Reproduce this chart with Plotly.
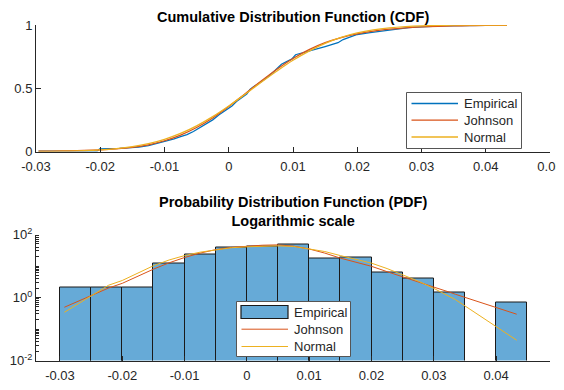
import plotly.graph_objects as go

# ---------------- data ----------------
# Top: CDF curves
cdf_x = [-0.0296, -0.0275, -0.025, -0.0225, -0.02, -0.0175, -0.015, -0.0125, -0.01, -0.0075,
         -0.005, -0.0025, 0.0, 0.0025, 0.005, 0.0075, 0.01, 0.0125, 0.015, 0.0175,
         0.02, 0.0225, 0.025, 0.0275, 0.03, 0.0325, 0.035, 0.0375, 0.04, 0.0433]
cdf_normal = [0.0008, 0.0016, 0.0033, 0.0066, 0.0124, 0.0222, 0.038, 0.062, 0.0965, 0.143,
              0.203, 0.276, 0.36, 0.451, 0.545, 0.636, 0.721, 0.794, 0.855, 0.902,
              0.937, 0.961, 0.977, 0.987, 0.9933, 0.9966, 0.9984, 0.9993, 0.9997, 0.9999]
cdf_johnson = [0.002, 0.003, 0.005, 0.008, 0.013, 0.021, 0.033, 0.053, 0.085, 0.13,
               0.19, 0.265, 0.355, 0.455, 0.555, 0.65, 0.735, 0.805, 0.86, 0.9,
               0.93, 0.952, 0.967, 0.978, 0.985, 0.99, 0.993, 0.995, 0.997, 0.998]
emp_x = [-0.0296, -0.0205, -0.0203, -0.0201, -0.017, -0.0155, -0.014, -0.0125, -0.011, -0.0095,
         -0.0085, -0.0075, -0.0065, -0.0055, -0.0045, -0.0035, -0.0025, -0.0015, -0.0005, 0.0005,
         0.0012, 0.002, 0.0028, 0.0033, 0.0038, 0.005, 0.0062, 0.0072, 0.0082, 0.009,
         0.0098, 0.0104, 0.0112, 0.012, 0.013, 0.014, 0.015, 0.016, 0.017, 0.0178,
         0.019, 0.02, 0.022, 0.024, 0.026, 0.028, 0.03, 0.0335, 0.0433]
emp_y = [0.0035, 0.0035, 0.0105, 0.021, 0.024, 0.028, 0.035, 0.046, 0.065, 0.087,
         0.1, 0.117, 0.133, 0.158, 0.19, 0.215, 0.25, 0.29, 0.322, 0.36,
         0.395, 0.425, 0.455, 0.49, 0.51, 0.55, 0.595, 0.64, 0.69, 0.71,
         0.73, 0.765, 0.775, 0.785, 0.8, 0.815, 0.83, 0.845, 0.86, 0.885,
         0.905, 0.925, 0.94, 0.955, 0.97, 0.98, 0.985, 0.993, 1.0]

# Bottom: histogram (pdf normalisation) and fitted pdfs
bin_edges = [-0.03, -0.025, -0.02, -0.015, -0.01, -0.005, 0.0, 0.005, 0.01, 0.015,
             0.02, 0.025, 0.03, 0.035, 0.04, 0.045]
bin_pdf = [2.12, 2.12, 2.12, 11.8, 22.9, 38.4, 42.2, 46.8, 16.7, 19.3,
           6.4, 4.1, 1.43, None, 0.70]
pdf_x = [-0.0293, -0.0222, -0.02, -0.0175, -0.015, -0.0125, -0.01, -0.0075, -0.005, -0.0025,
         0.0, 0.0025, 0.005, 0.0075, 0.01, 0.0125, 0.015, 0.0175, 0.02, 0.0225,
         0.025, 0.0275, 0.03, 0.0325, 0.0335, 0.0433]
pdf_johnson = [0.49, 2.0, 2.82, 4.79, 7.94, 12.6, 18.6, 25.7, 33.1, 38.9,
               42.7, 45.7, 46.8, 42.7, 34.7, 25.7, 17.8, 13.2, 9.77, 6.61,
               4.47, 3.09, 2.14, 1.48, 1.26, 0.295]
pdf_normal = [0.339, 2.45, 3.47, 6.03, 10.2, 15.5, 21.4, 27.5, 33.1, 38.0,
              40.7, 42.7, 43.6, 41.7, 35.5, 28.8, 21.4, 16.6, 12.3, 8.3,
              5.25, 3.31, 1.95, 1.07, 0.85, 0.044]

top_xticks = [-0.03, -0.02, -0.01, 0, 0.01, 0.02, 0.03, 0.04, 0.05]
top_xlabels = ["-0.03", "-0.02", "-0.01", "0", "0.01", "0.02", "0.03", "0.04", "0.05"]
top_yticks = [0, 0.5, 1]
top_ylabels = ["0", "0.5", "1"]
bot_xticks = [-0.03, -0.02, -0.01, 0, 0.01, 0.02, 0.03, 0.04]
bot_xlabels = ["-0.03", "-0.02", "-0.01", "0", "0.01", "0.02", "0.03", "0.04"]
bot_yticks = [0.01, 1, 100]
bot_ylabels = ["10<sup>-2</sup>", "10<sup>0</sup>", "10<sup>2</sup>"]
legend_names = ["Empirical", "Johnson", "Normal"]

# ---------------- styling ----------------
WIN_W, WIN_H = 564, 390
OFF = 8                      # page body margin in the browser
W, H = WIN_W - OFF, WIN_H - 2 * OFF
BLUE = "#0072BD"
ORANGE = "#D95319"
YELLOW = "#EDB120"
AX = "#262626"
FONT = "Liberation Sans, Arial, sans-serif"

# target positions in window pixels
ax_left, ax_right = 36, 550
top_t, top_b = 25, 151.5
bot_t, bot_b = 234.5, 360.5


def px(x):
    return (x - OFF) / W


def py(y):
    return 1 - (y - OFF) / H


fig = go.Figure()

# top traces
fig.add_trace(go.Scatter(x=emp_x, y=emp_y, mode="lines", line=dict(color=BLUE, width=1.3),
                         xaxis="x", yaxis="y", showlegend=False))
fig.add_trace(go.Scatter(x=cdf_x, y=cdf_johnson, mode="lines", line=dict(color=ORANGE, width=1.3),
                         xaxis="x", yaxis="y", showlegend=False, line_shape="spline"))
fig.add_trace(go.Scatter(x=cdf_x, y=cdf_normal, mode="lines", line=dict(color=YELLOW, width=1.3),
                         xaxis="x", yaxis="y", showlegend=False, line_shape="spline"))

# bottom traces
centers = [(bin_edges[i] + bin_edges[i + 1]) / 2 for i in range(len(bin_pdf))]
widths = [bin_edges[i + 1] - bin_edges[i] for i in range(len(bin_pdf))]
fig.add_trace(go.Bar(x=centers, y=bin_pdf, width=widths,
                     marker=dict(color="rgba(0,114,189,0.6)", line=dict(color="#1a1a1a", width=1)),
                     xaxis="x2", yaxis="y2", showlegend=False))
fig.add_trace(go.Scatter(x=pdf_x, y=pdf_johnson, mode="lines", line=dict(color=ORANGE, width=1),
                         xaxis="x2", yaxis="y2", showlegend=False))
fig.add_trace(go.Scatter(x=pdf_x, y=pdf_normal, mode="lines", line=dict(color=YELLOW, width=1),
                         xaxis="x2", yaxis="y2", showlegend=False))

axis_common = dict(showline=True, linecolor=AX, linewidth=1, ticks="inside", ticklen=5,
                   tickcolor=AX, tickwidth=1, showgrid=False, zeroline=False, automargin=False,
                   ticklabeloverflow="allow",
                   tickfont=dict(family=FONT, size=13, color=AX), mirror=False)

minor_vals = [m * 10 ** e for e in (-2, -1, 0, 1) for m in range(2, 10)] + [0.1, 10]

fig.update_layout(
    template="none",
    width=W, height=H, margin=dict(l=0, r=0, t=0, b=0, autoexpand=False),
    paper_bgcolor="white", plot_bgcolor="white", bargap=0,
    xaxis=dict(domain=[px(ax_left), px(ax_right)], range=[-0.03, 0.05], anchor="y",
               tickmode="array", tickvals=top_xticks, ticktext=top_xlabels,
               ticklabelstandoff=3, **axis_common),
    yaxis=dict(domain=[py(top_b), py(top_t)], range=[0, 1], anchor="x",
               tickmode="array", tickvals=top_yticks, ticktext=top_ylabels, **axis_common),
    xaxis2=dict(domain=[px(ax_left), px(ax_right)], range=[-0.03385, 0.04865], anchor="y2",
                tickmode="array", tickvals=bot_xticks, ticktext=bot_xlabels,
                ticklabelstandoff=3, **axis_common),
    yaxis2=dict(domain=[py(bot_b), py(bot_t)], type="log", range=[-2, 2], anchor="x2",
                tickmode="array", tickvals=bot_yticks, ticktext=bot_ylabels,
                minor=dict(tickmode="array", tickvals=minor_vals, ticks="inside", ticklen=3,
                           tickcolor=AX, showgrid=False),
                **axis_common),
)

# titles
TITLE_FONT = dict(family=FONT, size=14.5, color="black")
fig.add_annotation(text="<b>Cumulative Distribution Function (CDF)</b>", xref="paper", yref="paper",
                   x=px((ax_left + ax_right) / 2), y=py(17), showarrow=False,
                   font=TITLE_FONT, xanchor="center", yanchor="middle")
fig.add_annotation(text="<b>Probability Distribution Function (PDF)</b><br><b>Logarithmic scale</b>",
                   xref="paper", yref="paper",
                   x=px((ax_left + ax_right) / 2), y=py(212), showarrow=False,
                   font=TITLE_FONT, xanchor="center", yanchor="middle")

# legends (drawn manually to match MATLAB style)
LEG_FONT = dict(family=FONT, size=13, color=AX)


def draw_legend(x0, y0, x1, y1, rows, kinds):
    fig.add_shape(type="rect", xref="paper", yref="paper", x0=px(x0), x1=px(x1), y0=py(y1), y1=py(y0),
                  line=dict(color="#555555", width=1), fillcolor="white", layer="above")
    for (ry, name, kind) in zip(rows, legend_names, kinds):
        if kind[0] == "patch":
            fig.add_shape(type="rect", xref="paper", yref="paper", x0=px(x0 + 4.5), x1=px(x0 + 51.5),
                          y0=py(ry + 6.5), y1=py(ry - 6.5),
                          line=dict(color="#1a1a1a", width=1.2), fillcolor="rgba(0,114,189,0.6)",
                          layer="above")
        else:
            fig.add_shape(type="line", xref="paper", yref="paper", x0=px(x0 + 5), x1=px(x0 + 51.5),
                          y0=py(ry), y1=py(ry), line=dict(color=kind[1], width=kind[2]), layer="above")
        fig.add_annotation(text=name, xref="paper", yref="paper", x=px(x0 + 55.5), y=py(ry),
                           xanchor="left", yanchor="middle", showarrow=False, font=LEG_FONT)


draw_legend(406.5, 92.5, 521.5, 148.5, [103.5, 120.2, 137],
            [("line", BLUE, 1.3), ("line", ORANGE, 1.3), ("line", YELLOW, 1.3)])
draw_legend(236.5, 301.5, 350.5, 356.5, [312, 329.2, 346.5],
            [("patch",), ("line", ORANGE, 1), ("line", YELLOW, 1)])

fig.write_html("out.html")
